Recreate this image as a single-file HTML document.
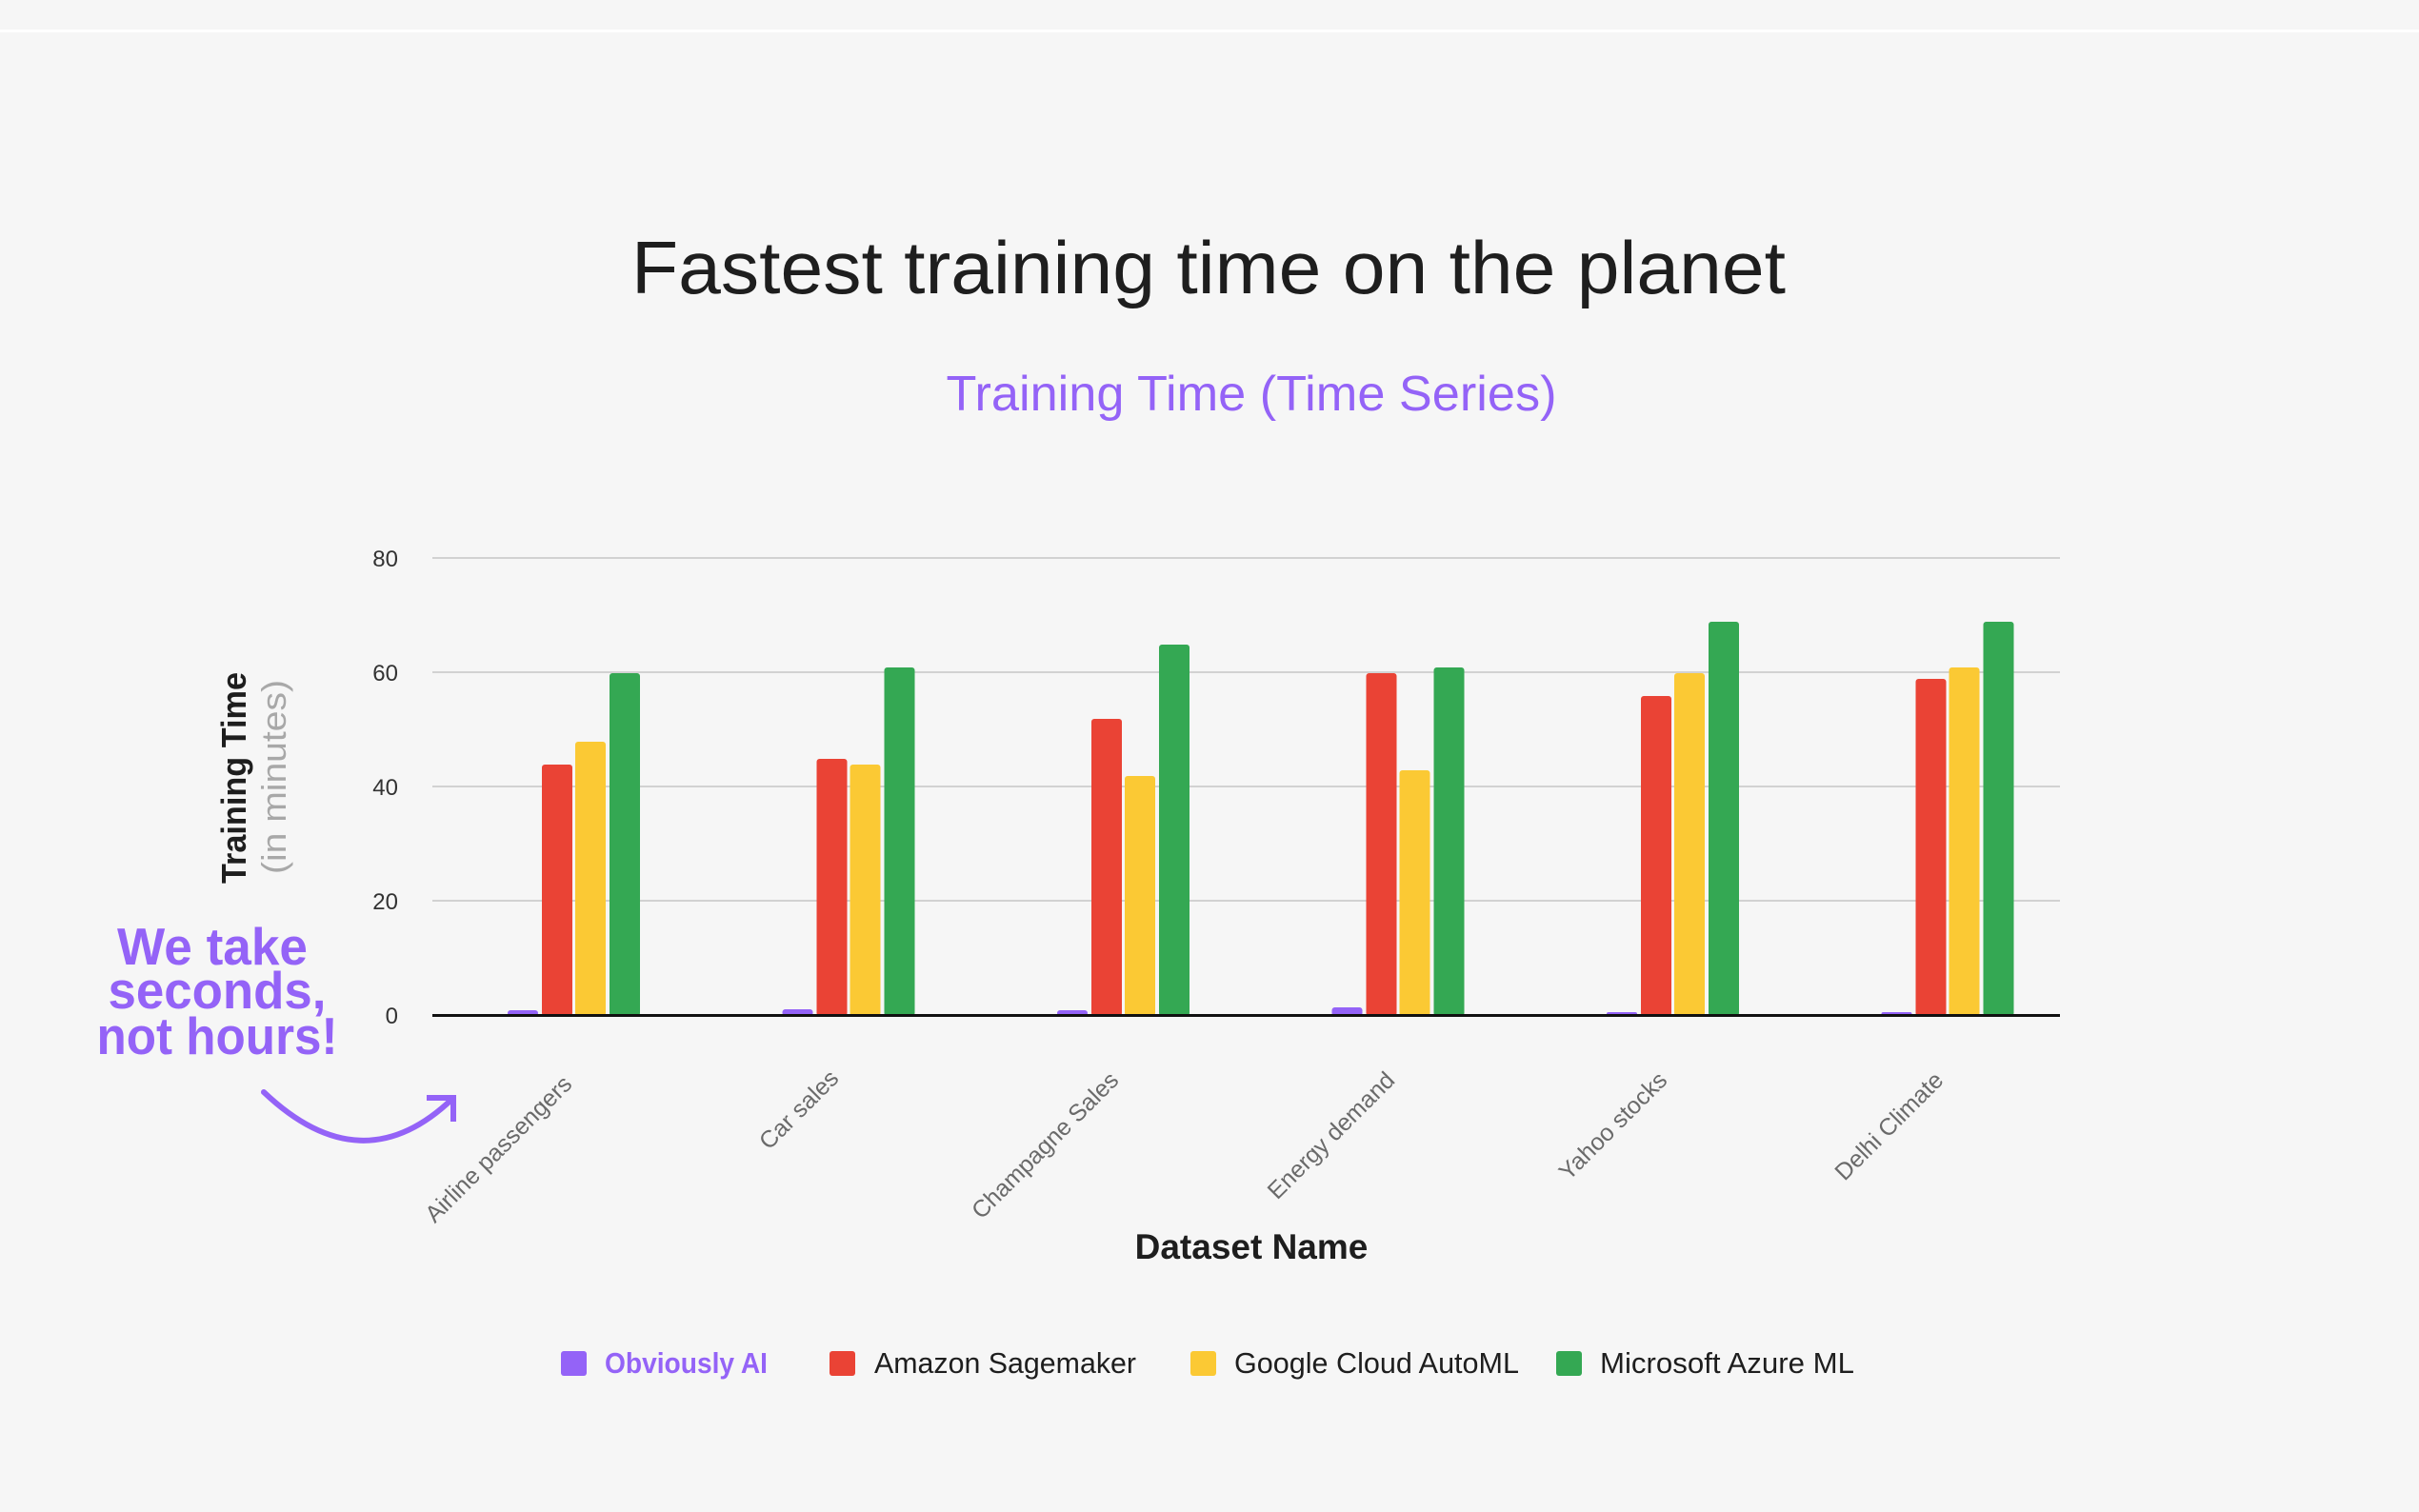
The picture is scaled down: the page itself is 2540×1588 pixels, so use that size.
<!DOCTYPE html>
<html><head><meta charset="utf-8"><style>
html,body{margin:0;padding:0;background:#f6f6f6;}
svg{display:block;}
</style></head><body>
<svg width="2540" height="1588" viewBox="0 0 2540 1588" xmlns="http://www.w3.org/2000/svg" font-family="Liberation Sans, sans-serif">
<rect width="2540" height="1588" fill="#f6f6f6"/>
<rect x="0" y="31" width="2540" height="3" fill="#ffffff"/>
<text x="1269" y="308" text-anchor="middle" font-size="78" fill="#1e1e1e" textLength="1212" lengthAdjust="spacingAndGlyphs">Fastest training time on the planet</text>
<text x="1314" y="431" text-anchor="middle" font-size="52" fill="#9463f7" textLength="641" lengthAdjust="spacingAndGlyphs">Training Time (Time Series)</text>
<g stroke="#d2d2d2" stroke-width="2">
<line x1="454" y1="586" x2="2163" y2="586"/>
<line x1="454" y1="706" x2="2163" y2="706"/>
<line x1="454" y1="826" x2="2163" y2="826"/>
<line x1="454" y1="946" x2="2163" y2="946"/>
</g>
<g font-size="24" fill="#333" text-anchor="end">
<text x="418" y="595">80</text>
<text x="418" y="715">60</text>
<text x="418" y="835">40</text>
<text x="418" y="955">20</text>
<text x="418" y="1075">0</text>
</g>
<text transform="translate(258,817) rotate(-90)" text-anchor="middle" font-size="36" font-weight="bold" fill="#1e1e1e" textLength="222" lengthAdjust="spacingAndGlyphs">Training Time</text>
<text transform="translate(300,816) rotate(-90)" text-anchor="middle" font-size="36" fill="#a8a8a8" textLength="204" lengthAdjust="spacingAndGlyphs">(in minutes)</text>
<g transform="translate(0,1)">
<rect x="533" y="1060" width="32" height="6" rx="3" fill="#9463f7"/>
<rect x="569" y="802" width="32" height="264" rx="3" fill="#ea4335"/>
<rect x="604" y="778" width="32" height="288" rx="3" fill="#fbc934"/>
<rect x="640" y="706" width="32" height="360" rx="3" fill="#34a853"/>

<rect x="821.5" y="1059" width="32" height="7" rx="3" fill="#9463f7"/>
<rect x="857.5" y="796" width="32" height="270" rx="3" fill="#ea4335"/>
<rect x="892.5" y="802" width="32" height="264" rx="3" fill="#fbc934"/>
<rect x="928.5" y="700" width="32" height="366" rx="3" fill="#34a853"/>

<rect x="1110" y="1060" width="32" height="6" rx="3" fill="#9463f7"/>
<rect x="1146" y="754" width="32" height="312" rx="3" fill="#ea4335"/>
<rect x="1181" y="814" width="32" height="252" rx="3" fill="#fbc934"/>
<rect x="1217" y="676" width="32" height="390" rx="3" fill="#34a853"/>

<rect x="1398.5" y="1057" width="32" height="9" rx="3" fill="#9463f7"/>
<rect x="1434.5" y="706" width="32" height="360" rx="3" fill="#ea4335"/>
<rect x="1469.5" y="808" width="32" height="258" rx="3" fill="#fbc934"/>
<rect x="1505.5" y="700" width="32" height="366" rx="3" fill="#34a853"/>

<rect x="1687" y="1062" width="32" height="4" rx="2" fill="#9463f7"/>
<rect x="1723" y="730" width="32" height="336" rx="3" fill="#ea4335"/>
<rect x="1758" y="706" width="32" height="360" rx="3" fill="#fbc934"/>
<rect x="1794" y="652" width="32" height="414" rx="3" fill="#34a853"/>

<rect x="1975.5" y="1062" width="32" height="4" rx="2" fill="#9463f7"/>
<rect x="2011.5" y="712" width="32" height="354" rx="3" fill="#ea4335"/>
<rect x="2046.5" y="700" width="32" height="366" rx="3" fill="#fbc934"/>
<rect x="2082.5" y="652" width="32" height="414" rx="3" fill="#34a853"/>
</g>
<rect x="454" y="1065" width="1709" height="3" fill="#111"/>
<g font-size="25" fill="#6a6a6a" text-anchor="end">
<text transform="translate(602,1140) rotate(-45)">Airline passengers</text>
<text transform="translate(882,1134) rotate(-45)">Car sales</text>
<text transform="translate(1176,1136) rotate(-45)">Champagne Sales</text>
<text transform="translate(1466,1136) rotate(-45)">Energy demand</text>
<text transform="translate(1752,1136) rotate(-45)">Yahoo stocks</text>
<text transform="translate(2042,1136) rotate(-45)">Delhi Climate</text>
</g>
<text x="1314" y="1322" text-anchor="middle" font-size="37" font-weight="bold" fill="#1e1e1e">Dataset Name</text>
<g font-size="55" font-weight="bold" fill="#9463f7" text-anchor="middle">
<text x="223" y="1013" textLength="200" lengthAdjust="spacingAndGlyphs">We take</text>
<text x="228" y="1059" textLength="229" lengthAdjust="spacingAndGlyphs">seconds,</text>
<text x="228" y="1107" textLength="253" lengthAdjust="spacingAndGlyphs">not hours!</text>
</g>
<path d="M277 1147 Q380 1245 475 1154" fill="none" stroke="#9463f7" stroke-width="6" stroke-linecap="round"/>
<polyline points="448,1153 476,1153 476,1178" fill="none" stroke="#9463f7" stroke-width="6"/>
<g font-size="31">
<rect x="589" y="1419" width="27" height="26" rx="3" fill="#9463f7"/>
<text x="635" y="1442" fill="#9463f7" font-weight="bold" textLength="171" lengthAdjust="spacingAndGlyphs">Obviously AI</text>
<rect x="871" y="1419" width="27" height="26" rx="3" fill="#ea4335"/>
<text x="918" y="1442" fill="#1e1e1e" textLength="275" lengthAdjust="spacingAndGlyphs">Amazon Sagemaker</text>
<rect x="1250" y="1419" width="27" height="26" rx="3" fill="#fbc934"/>
<text x="1296" y="1442" fill="#1e1e1e" textLength="299" lengthAdjust="spacingAndGlyphs">Google Cloud AutoML</text>
<rect x="1634" y="1419" width="27" height="26" rx="3" fill="#34a853"/>
<text x="1680" y="1442" fill="#1e1e1e" textLength="267" lengthAdjust="spacingAndGlyphs">Microsoft Azure ML</text>
</g>
</svg>
</body></html>
